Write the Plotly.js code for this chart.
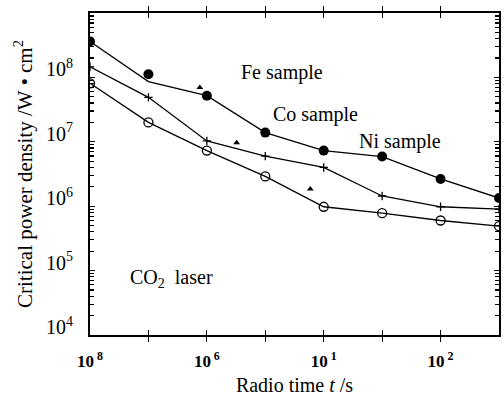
<!DOCTYPE html>
<html>
<head>
<meta charset="utf-8">
<script src="https://cdn.plot.ly/plotly-3.0.1.min.js"></script>
<style>html,body{margin:0;padding:0;background:#fff;}#chart{width:504px;height:402px;}</style>
</head>
<body>
<div id="chart"></div>
<script>
// Radio time t /s (decade positions)
var times = [1e-8, 1e-7, 1e-6, 1e-5, 1e-4, 1e-3, 1e-2, 1e-1];
var tickLabels = ["10<sup> 8</sup>", "", "10<sup> 6</sup>", "", "10<sup> 1</sup>", "", "10<sup> 2</sup>", ""];

// Fe sample: data markers and drawn curve
var feMarkers = [3.6e8, 1.12e8, 5.2e7, 1.39e7, 7.3e6, 5.9e6, 2.65e6, 1.34e6];
var feCurve   = [3.6e8, 8.6e7, 5.2e7, 1.39e7, 7.3e6, 5.9e6, 2.65e6, 1.34e6];
// Co sample
var coValues = [1.46e8, 4.9e7, 1.03e7, 6.0e6, 4.0e6, 1.44e6, 9.8e5, 9.0e5];
// Ni sample
var niValues = [8.1e7, 2.0e7, 7.3e6, 2.9e6, 9.8e5, 7.8e5, 6.0e5, 4.9e5];
// small pointer triangles
var pointerX = [Math.pow(10, -6.12), Math.pow(10, -5.49), Math.pow(10, -4.23)];
var pointerY = [7.0e7, 9.7e6, 1.85e6];

var serif = "Liberation Serif, Times New Roman, serif";

// minor tick positions for the log y axis (2..9 in each decade)
var minorTicks = [];
for (var d = 4; d < 9; d++) {
  for (var k = 2; k <= 9; k++) minorTicks.push(k * Math.pow(10, d));
}

var traces = [
  {x: times, y: feCurve, mode: "lines", line: {color: "#000", width: 1.3}, hoverinfo: "skip"},
  {x: times, y: feMarkers, mode: "markers", marker: {symbol: "circle", size: 10, color: "#000"}, name: "Fe"},
  {x: times, y: coValues, mode: "lines+markers", line: {color: "#000", width: 1.3},
   marker: {symbol: "cross-thin", size: 6, color: "#000", line: {color: "#000", width: 1.3}}, name: "Co"},
  {x: times, y: niValues, mode: "lines+markers", line: {color: "#000", width: 1.3},
   marker: {symbol: "circle-open", size: 9, color: "#000", line: {color: "#000", width: 1.3}}, name: "Ni"},
  {x: pointerX, y: pointerY, mode: "markers", marker: {symbol: "triangle-up", size: 6, color: "#000"}, hoverinfo: "skip"},
  {x: [times[0]], y: [feMarkers[0]], yaxis: "y2", mode: "markers", marker: {opacity: 0}, hoverinfo: "skip"}
];

function ann(text, x, y) {
  return {text: text, xref: "paper", yref: "paper", x: x, y: y, xanchor: "center", yanchor: "middle",
          showarrow: false, font: {family: serif, size: 20}};
}

var layout = {
  width: 504, height: 402,
  margin: {l: 90, r: 5, t: 13, b: 67},
  paper_bgcolor: "#fff", plot_bgcolor: "#fff",
  showlegend: false,
  font: {family: serif, color: "#000", size: 16},
  xaxis: {
    type: "log", range: [-8, -1],
    tickmode: "array", tickvals: times, ticktext: tickLabels,
    ticks: "inside", ticklen: 5, tickwidth: 1.2, tickcolor: "#000",
    showline: true, linecolor: "#000", linewidth: 1.8, mirror: "allticks",
    showgrid: false, zeroline: false,
    tickfont: {family: serif, size: 17, weight: "bold"},
    ticklabelstandoff: 10,
    title: {text: "Radio time <i>t</i> /s", font: {family: serif, size: 20}, standoff: 8}
  },
  yaxis: {
    type: "log", range: [4, 9],
    tickmode: "linear", tick0: 0, dtick: 1, exponentformat: "power",
    ticks: "inside", ticklen: 5, tickwidth: 1.2, tickcolor: "#000",
    showline: true, linecolor: "#000", linewidth: 1.8, mirror: "allticks",
    showgrid: false, zeroline: false,
    tickfont: {family: serif, size: 16},
    ticklabelstandoff: 12, ticklabelshift: -8,
    title: {text: "Critical power density /W • cm<sup>2</sup>", font: {family: serif, size: 21}, standoff: 8}
  },
  yaxis2: {
    type: "log", range: [4, 9], overlaying: "y", side: "left", anchor: "x",
    tickmode: "array", tickvals: minorTicks, showticklabels: false,
    ticks: "inside", ticklen: 4, tickwidth: 1.2, tickcolor: "#000",
    showline: true, linecolor: "#000", linewidth: 1.8, mirror: "allticks",
    showgrid: false, zeroline: false
  },
  annotations: [
    ann("Fe sample", 0.469, 0.814),
    ann("Co sample", 0.552, 0.684),
    ann("Ni sample", 0.759, 0.600),
    ann("CO<sub>2</sub>  laser", 0.200, 0.174)
  ]
};

Plotly.newPlot("chart", traces, layout, {displayModeBar: false, staticPlot: true});
</script>
</body>
</html>
